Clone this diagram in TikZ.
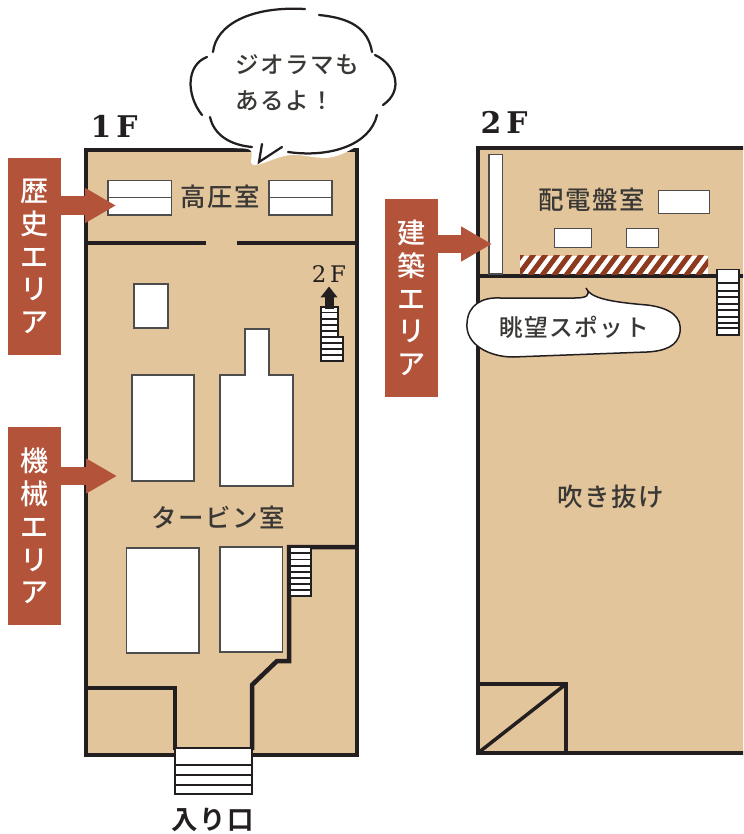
\documentclass[tikz,border=0pt]{standalone}
\usepackage{fontspec}
\usetikzlibrary{arrows.meta, positioning}
\usepackage{xcolor}
\newfontfamily\jpfont[LetterSpace=6]{Noto Sans CJK JP Medium}
\newfontfamily\jpbold[LetterSpace=6]{Noto Sans CJK JP Bold}
\newfontfamily\slabfont{DejaVu Serif}
\definecolor{floorfill}{HTML}{E3C59C}
\definecolor{tagred}{HTML}{B3543A}
\definecolor{hatchred}{HTML}{8E3A1E}
\definecolor{inkdark}{HTML}{231F20}
\definecolor{textdark}{HTML}{3A3835}

\begin{document}
\begin{tikzpicture}[
    x=0.02cm, y=-0.02cm,
    wall/.style={draw=inkdark, line width=0.09cm},
    machine/.style={draw=inkdark!80, fill=white, line width=0.03cm},
    stairline/.style={draw=inkdark, line width=0.035cm},
    stairbox/.style={draw=inkdark, fill=white, line width=0.04cm},
    room/.style={font=\jpfont\fontsize{14.5}{17}\selectfont, text=textdark, inner sep=0pt},
    floorname/.style={font=\slabfont\bfseries\fontsize{17}{20}\selectfont, text=inkdark, inner sep=0pt},
    tag/.style={fill=tagred, text=white, minimum width=1.06cm, minimum height=3.96cm, inner sep=0pt, align=center,
        font=\jpfont\fontsize{16}{18.7}\selectfont, execute at begin node=\rule{0pt}{18pt}},
    tagarrow/.style={draw=tagred, line width=0.37cm, -{Triangle[length=0.62cm, width=0.66cm]}},
    upstair/.style={draw=inkdark, line width=0.18cm, -{Triangle[length=0.22cm, width=0.33cm]}}
]
\clip (0,0) rectangle (743,834);
\useasboundingbox (0,0) rectangle (743,834);

% 1F floor
\fill[floorfill] (86,150) rectangle (357,755);
\draw[wall] (175,755) -- (86,755) -- (86,150) -- (357,150) -- (357,755) -- (252,755);
\draw[wall] (86,243) -- (206,243);
\draw[wall] (237,243) -- (357,243);
\draw[wall] (357,547) -- (289,547) -- (289,661) -- (277,661) -- (252,685) -- (252,750);
\draw[wall] (86,688) -- (175,688) -- (175,750);

% 1F machines
\draw[machine] (108,180.5) rectangle (171.5,215);
\draw[machine] (108,197.5) -- (171.5,197.5);
\draw[machine] (269,180.5) rectangle (332,215);
\draw[machine] (269,197.5) -- (332,197.5);
\draw[machine] (134,284) rectangle (168,328);
\draw[machine] (132,375) rectangle (194,481);
\draw[machine] (220,375) -- (245,375) -- (245,329) -- (269,329) -- (269,375) -- (293,375) -- (293,486) -- (220,486) -- cycle;
\draw[machine] (126.5,548) rectangle (199,653);
\draw[machine] (220,547) rectangle (282.5,652);

% 1F stairs
\draw[stairbox] (321,306.5) rectangle (338,337);
\foreach \y in {312.5,319,325,331} \draw[stairline] (321,\y) -- (338,\y);
\draw[stairbox] (321,337) rectangle (342.5,361);
\foreach \y in {343.3,349.3,355.3} \draw[stairline] (321,\y) -- (342.5,\y);
\draw[stairbox] (290,547) rectangle (311,596);
\foreach \y in {553,559.5,565.7,571.7,577.7,584,590} \draw[stairline] (290,\y) -- (311,\y);
\draw[stairbox] (175,748) rectangle (252,794);
\foreach \y in {765,775,785} \draw[stairline] (175,\y) -- (252,\y);

\coordinate (upFrom) at (329,309);
\coordinate (upTo) at (329,286.5);
\draw[upstair] (upFrom) -- (upTo);

% 2F floor
\fill[floorfill] (478,148) rectangle (760,753);
\draw[wall] (760,148) -- (478,148) -- (478,753) -- (760,753);
\draw[wall] (478,276) -- (760,276);
\draw[wall] (478,684) -- (566,684) -- (566,753);
\draw[wall, line width=0.07cm] (566,684) -- (478,753);

% 2F machines
\draw[machine] (489,154.5) rectangle (502.5,274);
\draw[machine] (658.5,190.5) rectangle (709.5,213.5);
\draw[machine] (554.5,228.5) rectangle (591.5,247.5);
\draw[machine] (626.5,228.5) rectangle (658.5,247.5);

% hatched band
\fill[white] (520,256) rectangle (708,274.5);
\begin{scope}
\clip (520,256) rectangle (708,274.5);
\foreach \x in {504,516,...,720}
    \draw[hatchred, line width=0.1cm] (\x,278) -- (\x+18,254);
\end{scope}

% 2F stairs
\draw[stairbox] (716.5,269.5) rectangle (739,334.5);
\foreach \y in {283.3,290.7,297.3,304,310,316.7,322.7,328.3} \draw[stairline] (716.5,\y) -- (739,\y);

% floor names and rooms
\node[floorname] (label1F) at (114,126) {1\,F};
\node[floorname] (label2F) at (504,122) {2\,F};
\node[floorname, font=\slabfont\fontsize{13}{15}\selectfont] (labelUp) at (329,274) {2\,F};
\node[room] (highVoltage) at (220,197) {高圧室};
\node[room] (turbine) at (218,517) {タービン室};
\node[room] (switchboard) at (592,200) {配電盤室};
\node[room] (atrium) at (611,497) {吹き抜け};
\node[room, font=\jpbold\fontsize{15}{17}\selectfont, text=inkdark] (entrance) at (213,820) {入り口};

% area tags
\node[tag] (tagHistory) at (34.5,256.5) {歴\\史\\エ\\リ\\ア};
\node[tag] (tagMachine) at (34.5,526) {機\\械\\エ\\リ\\ア};
\node[tag] (tagBuilding) at (411.5,298) {建\\築\\エ\\リ\\ア};
\coordinate (tipHistory) at (116,205.5);
\coordinate (tipMachine) at (117,476);
\coordinate (tipBuilding) at (492,244);
\draw[tagarrow] (tagHistory.east |- tipHistory) -- (tipHistory);
\draw[tagarrow] (tagMachine.east |- tipMachine) -- (tipMachine);
\draw[tagarrow] (tagBuilding.east |- tipBuilding) -- (tipBuilding);

% speech cloud
\fill[white] plot[smooth cycle, tension=0.6] coordinates {(210,48) (238,11) (283,5) (320,11) (355,18) (372,38) (397,65) (400,85) (385,110) (372,135) (333,157) (290,155) (254,165) (250,150) (225,145) (206,117) (186,90) (192,60)};
\draw[inkdark, line width=0.045cm, line cap=round] (213,52) .. controls (216,25) and (250,6) .. (305,9);
\draw[inkdark, line width=0.045cm, line cap=round] (319,15) .. controls (350,18) and (368,28) .. (372,52);
\draw[inkdark, line width=0.045cm, line cap=round] (375,55) .. controls (395,64) and (405,90) .. (383,105);
\draw[inkdark, line width=0.045cm, line cap=round] (377,115) .. controls (370,145) and (330,158) .. (288,152);
\draw[inkdark, line width=0.045cm, line cap=round] (282,147) -- (259,162) -- (262,144);
\draw[inkdark, line width=0.045cm, line cap=round] (252,147) .. controls (230,145) and (214,135) .. (210,117);
\draw[inkdark, line width=0.045cm, line cap=round] (202,115) .. controls (186,95) and (186,65) .. (207,57);
\node[room, anchor=west, align=left, font=\jpfont\fontsize{13.4}{20.4}\selectfont] (cloudText) at (235,83) {ジオラマも\\あるよ！};

% view spot bubble
\filldraw[fill=white, draw=inkdark, line width=0.03cm] (586,288) .. controls (590,298) and (610,302) .. (647,305)
    .. controls (672,308) and (682,318) .. (680,332) .. controls (678,346) and (665,351) .. (647,352)
    -- (513,357) .. controls (490,357) and (465,345) .. (467,323) .. controls (468,305) and (482,297) .. (500,298)
    -- (575,298) .. controls (585,298) and (592,296) .. cycle;
\node[room, font=\jpfont\fontsize{13.5}{16}\selectfont] (viewSpot) at (574,327) {眺望スポット};

\end{tikzpicture}
\end{document}
